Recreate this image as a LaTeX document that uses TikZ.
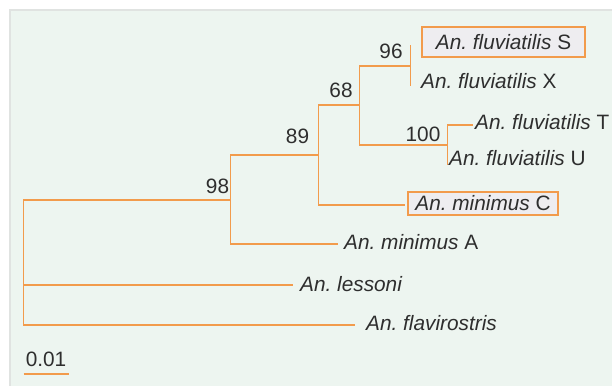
\documentclass[tikz,border=0pt]{standalone}
\usepackage{fontspec}
\setmainfont{Liberation Sans}
\frenchspacing
\definecolor{branch}{HTML}{F29B4C}
\definecolor{panel}{HTML}{EDF5F0}
\definecolor{panelline}{HTML}{E0E3E1}
\definecolor{boxfill}{HTML}{EEEDF0}
\definecolor{ink}{HTML}{2E2E2E}
\begin{document}
\begin{tikzpicture}[x=1pt,y=-1pt,
  br/.style={draw=branch,line width=1.5pt},
  leaf/.style={anchor=west,inner sep=0pt,text=ink,font=\fontsize{20.8}{24}\selectfont},
  boot/.style={anchor=center,inner sep=0pt,text=ink,font=\fontsize{20.8}{24}\selectfont},
  hilite/.style={draw=branch,line width=1.8pt,fill=boxfill,inner ysep=0pt,text=ink,font=\fontsize{20.8}{24}\selectfont}]
\useasboundingbox (0,0) rectangle (612,385);
\fill[white] (0,0) rectangle (612,385);
\filldraw[fill=panel,draw=panelline,line width=2pt] (9.5,10.5) rectangle (615,390);
% internal coordinates
\coordinate (R) at (23.5,262.5);
\coordinate (n98) at (230.5,200);
\coordinate (n89) at (318.5,155);
\coordinate (n68) at (359.5,105);
\coordinate (n96) at (410.5,66);
\coordinate (n100) at (447.5,145);
\coordinate (eS) at (410.5,45);
\coordinate (eX) at (410.5,86);
\coordinate (eT) at (473,125);
\coordinate (eU) at (447.5,165);
\coordinate (eC) at (405,205);
\coordinate (eA) at (338,244);
\coordinate (eL) at (293,285);
\coordinate (eF) at (355,325);
% branches
\draw[br] (R) |- (n98);
\draw[br] (R) |- (eL);
\draw[br] (R) |- (eF);
\draw[br] (n98) |- (n89);
\draw[br] (n98) |- (eA);
\draw[br] (n89) |- (n68);
\draw[br] (n89) |- (eC);
\draw[br] (n68) |- (n96);
\draw[br] (n68) |- (n100);
\draw[br] (n96) |- (eS);
\draw[br] (n96) |- (eX);
\draw[br] (n100) |- (eT);
\draw[br] (n100) |- (eU);
% leaves
\node[hilite,anchor=west,inner xsep=14pt,minimum height=30pt] (lS) at (421,42) {\textit{An. fluviatilis} S};
\node[leaf] (lX) at (421,81) {\textit{An. fluviatilis} X};
\node[leaf] (lT) at (475,122.5) {\textit{An. fluviatilis} T};
\node[leaf] (lU) at (449,158) {\textit{An. fluviatilis} U};
\node[hilite,anchor=west,inner xsep=7.5pt,minimum height=23pt] (lC) at (407,203.5) {\textit{An. minimus} C};
\node[leaf] (lA) at (344,242.5) {\textit{An. minimus} A};
\node[leaf] (lL) at (300,284) {\textit{An. lessoni}};
\node[leaf] (lF) at (366,323) {\textit{An. flavirostris}};
% bootstrap values
\node[boot] (b96) at (391,51) {96};
\node[boot] (b68) at (341,90.5) {68};
\node[boot] (b100) at (423,134.5) {100};
\node[boot] (b89) at (297.5,136) {89};
\node[boot] (b98) at (217.5,186.5) {98};
% scale bar
\node[boot] (sc) at (46,359.5) {0.01};
\coordinate (s1) at (23.5,374);
\coordinate (s2) at (69,374);
\draw[br] (s1) -- (s2);
\end{tikzpicture}
\end{document}
